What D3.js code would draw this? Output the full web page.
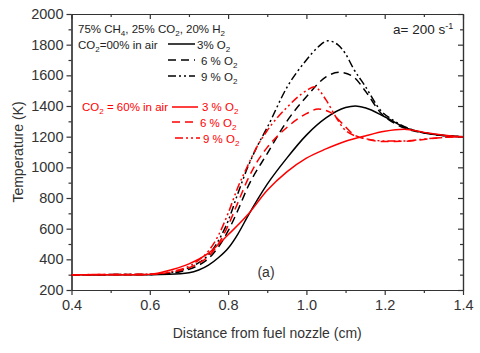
<!DOCTYPE html>
<html>
<head>
<meta charset="utf-8">
<script src="https://cdn.jsdelivr.net/npm/d3@7"></script>
<style>
  body { margin: 0; background: #fff; }
  svg { display: block; font-family: "Liberation Sans", Arial, sans-serif; }
  .axis path, .axis line { stroke: #333; stroke-width: 1.2; }
  .axis text { fill: #333; font-size: 14.5px; font-family: "Liberation Sans", Arial, sans-serif; }
</style>
</head>
<body>
<div class="js-chart"></div>
<script>
// Values: [distance (cm), temperature (K)]
// CO2 = 0% in air
const air3 = [[0.4,300],[0.6,300],[0.65,302],[0.7,312],[0.725,330],[0.75,362],[0.775,410],[0.8,472],[0.825,565],[0.85,680],[0.9,890],[0.95,1060],[1.0,1210],[1.05,1322],[1.1,1390],[1.125,1400],[1.15,1388],[1.2,1330],[1.25,1262],[1.3,1226],[1.35,1208],[1.4,1200]];
const air6 = [[0.4,300],[0.6,301],[0.65,308],[0.7,335],[0.725,362],[0.75,405],[0.775,480],[0.8,585],[0.825,720],[0.85,870],[0.9,1090],[0.95,1300],[1.0,1460],[1.05,1590],[1.085,1620],[1.12,1590],[1.15,1500],[1.19,1355],[1.23,1280],[1.27,1240],[1.3,1225],[1.35,1208],[1.4,1200]];
const air9 = [[0.4,300],[0.6,301],[0.65,312],[0.7,345],[0.725,378],[0.75,430],[0.775,520],[0.8,650],[0.825,830],[0.85,1000],[0.875,1140],[0.9,1260],[0.95,1520],[1.0,1700],[1.03,1785],[1.055,1825],[1.08,1800],[1.1,1740],[1.12,1645],[1.15,1530],[1.19,1370],[1.22,1310],[1.26,1255],[1.3,1225],[1.35,1208],[1.4,1200]];
// CO2 = 60% in air
const co2_3 = [[0.4,300],[0.58,300],[0.62,310],[0.66,335],[0.7,370],[0.75,440],[0.8,560],[0.85,690],[0.9,850],[0.95,970],[1.0,1060],[1.05,1120],[1.1,1170],[1.15,1205],[1.2,1235],[1.25,1248],[1.3,1228],[1.35,1210],[1.4,1200]];
const co2_6 = [[0.4,300],[0.6,302],[0.65,315],[0.7,345],[0.725,375],[0.75,420],[0.775,500],[0.8,620],[0.825,770],[0.85,920],[0.875,1040],[0.9,1130],[0.95,1260],[1.0,1350],[1.03,1380],[1.06,1360],[1.09,1290],[1.12,1215],[1.15,1185],[1.2,1168],[1.25,1170],[1.3,1182],[1.35,1195],[1.4,1200]];
const co2_9 = [[0.4,300],[0.6,303],[0.65,318],[0.7,355],[0.725,395],[0.75,455],[0.775,555],[0.8,700],[0.825,870],[0.85,1010],[0.875,1140],[0.9,1240],[0.95,1390],[1.0,1500],[1.02,1525],[1.05,1440],[1.075,1330],[1.1,1240],[1.15,1188],[1.2,1172],[1.25,1172],[1.3,1184],[1.35,1195],[1.4,1200]];

const xTicks = [0.4, 0.6, 0.8, 1.0, 1.2, 1.4];
const xMinor = [0.5, 0.7, 0.9, 1.1, 1.3];
const yTicks = [200, 400, 600, 800, 1000, 1200, 1400, 1600, 1800, 2000];
const yMinor = [300, 500, 700, 900, 1100, 1300, 1500, 1700, 1900];

const chart = (function () {
  "use strict";

  var W = 480, H = 353;
  var margin = { top: 14, right: 17, bottom: 63, left: 71.5 };
  var svg, x, y;

  var DASH = "8,5";
  var DASHDOT = "8,3,2,3,2,3";

  /**
   * Set up svg, scales and draw everything.
   */
  var init = function (sel) {
    svg = d3.select(sel).append("svg").attr("width", W).attr("height", H);

    x = d3.scaleLinear().domain([0.4, 1.4]).range([margin.left, W - margin.right]);
    y = d3.scaleLinear().domain([200, 2000]).range([H - margin.bottom, margin.top]);

    drawAxes();
    drawCurves();
    drawLegend();
  };

  // one axis group: orient fn, position, ticks, size, labels or not
  var axis = function (gen, transform, values, size, fmt, pad) {
    svg.append("g").attr("class", "axis").attr("transform", transform)
      .call(gen.tickValues(values).tickFormat(fmt).tickSize(size).tickPadding(pad || 3).tickSizeOuter(0));
  };

  var drawAxes = function () {
    var b = H - margin.bottom, t = margin.top, l = margin.left, r = W - margin.right;
    var fmtX = d3.format(".1f"), fmtY = d3.format("d");

    // bottom / left: outward ticks with labels; top / right: inward ticks
    axis(d3.axisBottom(x), "translate(0," + b + ")", xTicks, 5, fmtX, 5);
    axis(d3.axisBottom(x), "translate(0," + b + ")", xMinor, 3, "");
    axis(d3.axisBottom(x), "translate(0," + t + ")", xTicks, 5, "");
    axis(d3.axisBottom(x), "translate(0," + t + ")", xMinor, 3, "");
    axis(d3.axisLeft(y), "translate(" + l + ",0)", yTicks, 5, fmtY, 3);
    axis(d3.axisLeft(y), "translate(" + l + ",0)", yMinor, 3, "");
    axis(d3.axisLeft(y), "translate(" + r + ",0)", yTicks, 5, "");
    axis(d3.axisLeft(y), "translate(" + r + ",0)", yMinor, 3, "");

    svg.append("text")
      .attr("x", (l + r) / 2).attr("y", 338)
      .attr("text-anchor", "middle").attr("font-size", 14).attr("fill", "#333")
      .text("Distance from fuel nozzle (cm)");

    svg.append("text")
      .attr("transform", "translate(23," + (t + b) / 2 + ") rotate(-90)")
      .attr("text-anchor", "middle").attr("font-size", 14).attr("fill", "#333")
      .text("Temperature (K)");

    svg.append("text")
      .attr("x", 266).attr("y", 277)
      .attr("text-anchor", "middle").attr("font-size", 14).attr("fill", "#333")
      .text("(a)");

    var a = svg.append("text").attr("x", 393).attr("y", 34)
      .attr("font-size", 13.5).attr("fill", "#222");
    a.append("tspan").text("a= 200 s");
    a.append("tspan").attr("dy", -5).attr("font-size", 9).text("-1");
  };

  var drawCurves = function () {
    svg.append("clipPath").attr("id", "plotClip")
      .append("rect")
      .attr("x", margin.left).attr("y", margin.top)
      .attr("width", W - margin.left - margin.right)
      .attr("height", H - margin.top - margin.bottom);

    var line = d3.line()
      .x(function (d) { return x(d[0]); })
      .y(function (d) { return y(d[1]); })
      .curve(d3.curveMonotoneX);

    var series = [
      { data: air3, color: "#000", dash: null },
      { data: air6, color: "#000", dash: DASH },
      { data: air9, color: "#000", dash: DASHDOT },
      { data: co2_3, color: "#f00", dash: null },
      { data: co2_6, color: "#f00", dash: DASH },
      { data: co2_9, color: "#f00", dash: DASHDOT }
    ];

    svg.append("g").attr("clip-path", "url(#plotClip)")
      .selectAll("path")
      .data(series)
      .enter()
        .append("path")
        .attr("d", function (d) { return line(d.data); })
        .attr("fill", "none")
        .attr("stroke", function (d) { return d.color; })
        .attr("stroke-width", 1.5)
        .attr("stroke-dasharray", function (d) { return d.dash; });
  };

  /**
   * Add a text line with tspans; parts are [text, isSubscript].
   */
  var richText = function (xx, yy, size, color, parts) {
    var t = svg.append("text").attr("x", xx).attr("y", yy)
      .attr("font-size", size).attr("fill", color);
    var prevSub = false;
    parts.forEach(function (p) {
      var s = t.append("tspan").text(p[0]);
      if (p[1]) {
        s.attr("font-size", size * 0.7).attr("dy", 3);
      } else if (prevSub) {
        s.attr("dy", -3);
      }
      prevSub = !!p[1];
    });
    return t;
  };

  var legendLine = function (x1, x2, yy, color, dash) {
    svg.append("line")
      .attr("x1", x1).attr("x2", x2).attr("y1", yy).attr("y2", yy)
      .attr("stroke", color).attr("stroke-width", 1.5)
      .attr("stroke-dasharray", dash);
  };

  var drawLegend = function () {
    var fs = 11.5;
    var black = "#222", red = "#f00";

    richText(78, 33, fs, black, [["75% CH", 0], ["4", 1], [", 25% CO", 0], ["2", 1], [",  20% H", 0], ["2", 1]]);
    richText(78, 49, fs, black, [["CO", 0], ["2", 1], ["=00% in air", 0]]);

    legendLine(168, 195, 44, "#000", null);
    richText(197, 49, fs, black, [["3% O", 0], ["2", 1]]);
    legendLine(168, 195, 60, "#000", DASH);
    richText(201, 65, fs, black, [["6 % O", 0], ["2", 1]]);
    legendLine(168, 195, 76, "#000", DASHDOT);
    richText(201, 81, fs, black, [["9 % O", 0], ["2", 1]]);

    richText(82, 111, fs, red, [["CO", 0], ["2", 1], [" = 60% in air", 0]]);
    legendLine(172, 198, 107, red, null);
    richText(202, 111, fs, red, [["3 % O", 0], ["2", 1]]);
    legendLine(172, 198, 122, red, DASH);
    richText(200, 127, fs, red, [["6 % O", 0], ["2", 1]]);
    legendLine(175, 200, 138, red, DASHDOT);
    richText(203, 143, fs, red, [["9 % O", 0], ["2", 1]]);
  };

  return { init: init };
})();

if (d3 && document.querySelectorAll(".js-chart").length) {
  chart.init(".js-chart");
}
</script>
</body>
</html>
